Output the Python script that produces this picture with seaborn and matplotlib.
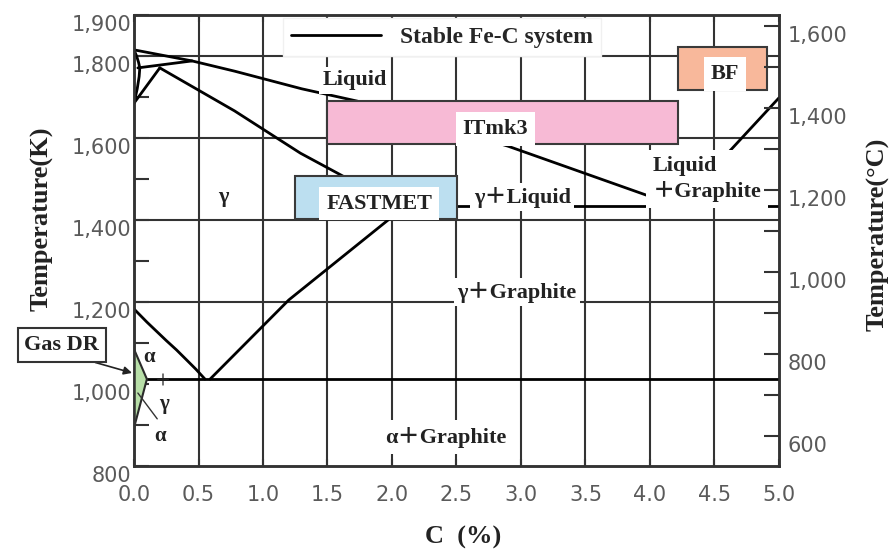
import matplotlib
matplotlib.use("Agg")
import matplotlib.pyplot as plt
import matplotlib.transforms as mtransforms
from matplotlib.patches import Rectangle
from matplotlib.lines import Line2D
import pandas as pd
import seaborn as sns

# ---------------- data (C %, temperature K) ----------------
liquidus_c = [0.0, 0.45, 0.78, 1.3, 1.73, 2.9, 4.22]
liquidus_t = [1815, 1788, 1763, 1720, 1690, 1580, 1433]
graphite_liq_c = [4.22, 5.0]
graphite_liq_t = [1433, 1698]
eutectic_c = [2.03, 5.0]
eutectic_t = [1433, 1433]
solidus_c = [0.2, 0.78, 1.29, 1.62, 2.03]
solidus_t = [1771, 1666, 1563, 1507, 1433]
peritectic_c = [0.03, 0.45]
peritectic_t = [1771, 1788]
delta_c = [0.0, 0.02, 0.035, 0.045, 0.04, 0.025, 0.0]
delta_t = [1815, 1800, 1785, 1771, 1750, 1720, 1685]
delta_gamma_c = [0.0, 0.2]
delta_gamma_t = [1685, 1771]
a3_c = [0.0, 0.05, 0.1, 0.18, 0.25, 0.33, 0.41, 0.48, 0.55]
a3_t = [1183, 1167, 1151, 1127, 1106, 1083, 1058, 1036, 1012]
acm_c = [0.59, 1.2, 1.97, 2.03]
acm_t = [1012, 1205, 1400, 1433]
eutectoid_c = [0.1, 5.0]
eutectoid_t = [1012, 1012]

alpha_c = [0.0, 0.1, 0.0]
alpha_t = [1085, 1012, 893]
leader_c = [0.03, 0.18]
leader_t = [978, 915]

# process windows: name, C min, C max, T min, T max
proc_names = ["ITmk3", "FASTMET", "BF"]
proc_cmin = [1.5, 1.25, 4.22]
proc_cmax = [4.22, 2.5, 4.91]
proc_tmin = [1585, 1402, 1717]
proc_tmax = [1690, 1507, 1822]
proc_colors = ["#F7BAD5", "#BCDFF0", "#F8B89B"]
proc_label_c = [2.8, 1.9, 4.58]
proc_label_t = [1622, 1440, 1756]

x_ticks = [0.0, 0.5, 1.0, 1.5, 2.0, 2.5, 3.0, 3.5, 4.0, 4.5, 5.0]
x_ticklabels = ["0.0", "0.5", "1.0", "1.5", "2.0", "2.5", "3.0", "3.5", "4.0", "4.5", "5.0"]
yK_ticks = [800, 1000, 1200, 1400, 1600, 1800, 1900]
yK_ticklabels = ["800", "1,000", "1,200", "1,400", "1,600", "1,800", "1,900"]
yK_minor = [900, 1100, 1300, 1500, 1700]
yC_ticks = [600, 800, 1000, 1200, 1400, 1600]
yC_ticklabels = ["600", "800", "1,000", "1,200", "1,400", "1,600"]
yC_minor = [700, 900, 1100, 1300, 1500]
grid_x = [0.5, 1.0, 1.5, 2.0, 2.5, 3.0, 3.5, 4.0, 4.5]
grid_y = [1200, 1400, 1600, 1800]

curves = {
    "liquidus": (liquidus_c, liquidus_t),
    "graphite_liq": (graphite_liq_c, graphite_liq_t),
    "eutectic": (eutectic_c, eutectic_t),
    "solidus": (solidus_c, solidus_t),
    "peritectic": (peritectic_c, peritectic_t),
    "delta": (delta_c, delta_t),
    "delta_gamma": (delta_gamma_c, delta_gamma_t),
    "a3": (a3_c, a3_t),
    "acm": (acm_c, acm_t),
    "eutectoid": (eutectoid_c, eutectoid_t),
}
rows = []
for name, (cs, ts) in curves.items():
    for i, (c, t) in enumerate(zip(cs, ts)):
        rows.append((name, i, c, t))
df = pd.DataFrame(rows, columns=["curve", "order", "C", "T"])

# ---------------- style ----------------
sns.set_style("white")
plt.rcParams["font.family"] = ["DejaVu Sans"]
SERIF = ["Liberation Serif", "Noto Sans CJK SC", "DejaVu Serif"]
GRID = "#333333"
TICKC = "#5a5a5a"
INK = "#222222"

fig = plt.figure(figsize=(8.95, 5.52), dpi=100)
ax = fig.add_axes([134 / 895, 1 - 466 / 552, 645 / 895, 451 / 552])

for gx in grid_x:
    ax.axvline(gx, color=GRID, lw=1.5, zorder=1)
for gy in grid_y:
    ax.axhline(gy, color=GRID, lw=1.5, zorder=1)

sns.lineplot(data=df, x="C", y="T", units="curve", estimator=None, sort=False,
             color="black", lw=2.0, ax=ax, legend=False, zorder=3)

ax.fill(alpha_c, alpha_t, facecolor="#B8DFA8", edgecolor="#2a2a2a", lw=1.5, zorder=3)
ax.plot(leader_c, leader_t, color="#333333", lw=1.0, zorder=3)

for name, c0, c1, t0, t1, col, lc, lt in zip(proc_names, proc_cmin, proc_cmax, proc_tmin,
                                             proc_tmax, proc_colors, proc_label_c, proc_label_t):
    ax.add_patch(Rectangle((c0, t0), c1 - c0, t1 - t0, facecolor=col,
                           edgecolor="#3a3a3a", lw=1.5, zorder=4))
    ax.text(lc, lt, name, ha="center", va="center", fontsize=16, fontweight="bold",
            family=SERIF, color=INK, zorder=6,
            bbox=dict(boxstyle="square,pad=0.3", facecolor="white", edgecolor="none"))


def label(x, y, s, ha="center", size=16, pad=0.15, box=True, weight="bold"):
    kw = dict(ha=ha, va="center", fontsize=size, fontweight=weight, family=SERIF,
              color=INK, zorder=6, linespacing=1.25)
    if box:
        kw["bbox"] = dict(boxstyle=f"square,pad={pad}", facecolor="white", edgecolor="none")
    ax.text(x, y, s, **kw)


label(1.71, 1741, "Liquid")
label(0.69, 1456, "γ", box=False)
label(3.01, 1456, "γ＋Liquid")
label(4.02, 1500, "Liquid\n＋Graphite", ha="left", pad=0.3)
label(2.97, 1224, "γ＋Graphite")
label(2.42, 870, "α＋Graphite", pad=0.3)
label(0.12, 1066, "α", box=False, size=15)
label(0.22, 1004, "+", box=False, size=18, weight="normal")
label(0.235, 950, "γ", box=False, size=15)
label(0.2, 874, "α", box=False, size=15)

ax.annotate("Gas DR", xy=(-0.015, 1027), xytext=(-0.56, 1095), textcoords="data",
            ha="center", va="center", fontsize=16, fontweight="bold", family=SERIF,
            color=INK, annotation_clip=False, zorder=6,
            bbox=dict(boxstyle="square,pad=0.3", facecolor="white", edgecolor="#333333", lw=1.5),
            arrowprops=dict(arrowstyle="-|>", color=INK, lw=1.2,
                            shrinkA=0, shrinkB=0, mutation_scale=12,
                            relpos=(0.6, 0.0)))

handle = Line2D([], [], color="black", lw=2)
leg = ax.legend([handle], ["Stable Fe-C system"], loc="upper left",
                bbox_to_anchor=(0.231, 0.993), borderaxespad=0, frameon=True,
                fancybox=False, edgecolor="#f0f0f0", framealpha=1, handlelength=3.8,
                borderpad=0.35, prop=dict(family=SERIF, weight="bold", size=17))
leg.set_zorder(7)

ax.set_xlim(0, 5)
ax.set_ylim(800, 1900)
ax.set_xticks(x_ticks)
ax.set_xticklabels(x_ticklabels)
ax.set_yticks(yK_ticks)
ax.set_yticklabels(yK_ticklabels)
ax.set_yticks(yK_minor, minor=True)
ax.tick_params(axis="x", which="major", direction="in", top=True, bottom=True,
               length=5, width=1.5, color=GRID, labelsize=15, labelcolor=TICKC, pad=14)
ax.tick_params(axis="y", which="both", direction="in", length=11, width=1.5,
               color=GRID, labelsize=15, labelcolor=TICKC, pad=2)

ax2 = ax.twinx()
ax2.set_ylim(800 - 273.15, 1900 - 273.15)
ax2.set_yticks(yC_ticks)
ax2.set_yticklabels(yC_ticklabels)
ax2.set_yticks(yC_minor, minor=True)
ax2.tick_params(axis="y", which="both", direction="in", length=11, width=1.5,
                color=GRID, labelsize=15, labelcolor=TICKC, pad=6)

off = mtransforms.ScaledTranslation(0, -8 / 100, fig.dpi_scale_trans)
for lab in ax.get_yticklabels() + ax2.get_yticklabels():
    lab.set_transform(lab.get_transform() + off)

for a in (ax, ax2):
    for sp in a.spines.values():
        sp.set_color(GRID)
        sp.set_linewidth(1.8)
        sp.set_visible(True)

ax.set_xlabel("C  (%)", fontsize=19, fontweight="bold", family=SERIF, color=INK)
ax.xaxis.set_label_coords(0.51, -0.133)
ax.set_ylabel("Temperature(K)", fontsize=19, fontweight="bold", family=SERIF, color=INK)
ax.yaxis.set_label_coords(-0.124, 0.548)
ax2.set_ylabel("Temperature(°C)", fontsize=19, fontweight="bold", family=SERIF,
               color=INK, rotation=90)
ax2.yaxis.set_label_coords(1.136, 0.514)

fig.savefig("out.png", dpi=100, facecolor="white")
